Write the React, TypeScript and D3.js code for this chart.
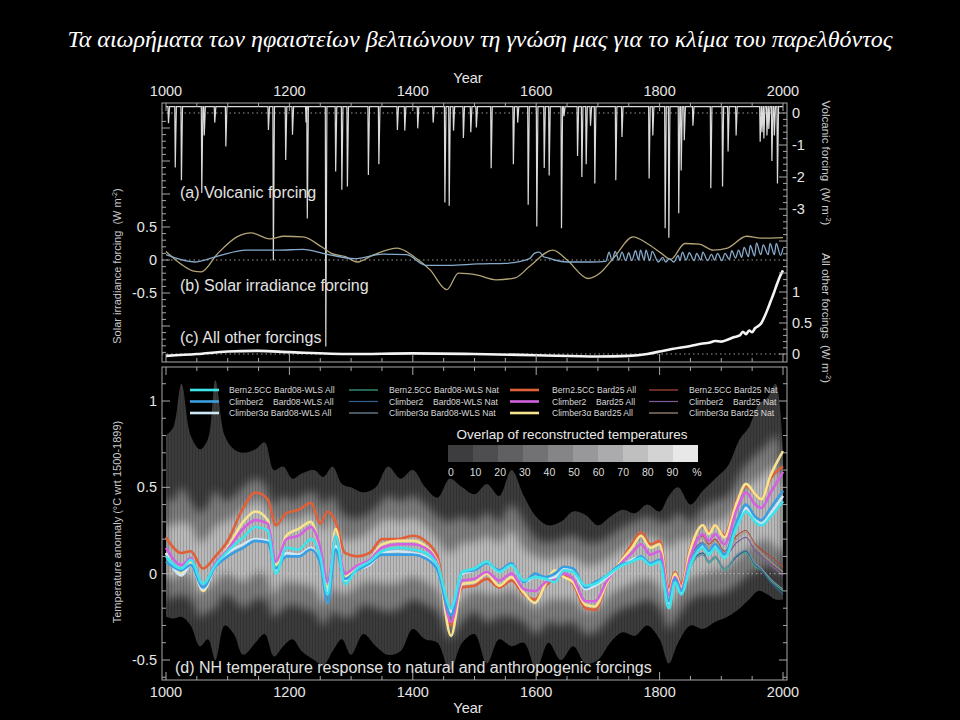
import { useEffect, useRef } from "react";
import * as d3 from "d3";

const TITLE =
  "Τα αιωρήματα των ηφαιστείων βελτιώνουν τη γνώση μας για το κλίμα του παρελθόντος";

// (a) volcanic forcing spikes (W m-2)
const volcBase = 0.2;
const volcYears = [
  1004, 1015, 1025, 1058, 1062, 1079, 1097, 1166, 1174, 1194, 1205, 1227, 1229, 1259, 1275, 1285,
  1294, 1328, 1345, 1375, 1387, 1408, 1433, 1452, 1459, 1466, 1482, 1494, 1503, 1527, 1563, 1570,
  1587, 1601, 1613, 1621, 1641, 1645, 1667, 1674, 1681, 1688, 1695, 1729, 1739, 1783, 1789, 1809,
  1815, 1831, 1835, 1840, 1854, 1883, 1902, 1911, 1924, 1963, 1966, 1969, 1974, 1977, 1982, 1986,
  1991,
];
const volcValues = [
  -0.32, -1.7, -2.1, -2.5, -0.7, -0.3, -1.05, -0.53, -4.6, -1.47, -0.68, -0.3, -3.3, -7.3, -1.83,
  -2.4, -2.3, -1.94, -1.6, -0.53, -0.55, -0.48, -0.3, -2.8, -2.9, -0.55, -0.78, -0.6, -0.45, -1.73,
  -1.6, -0.3, -2.87, -3.55, -1.72, -1.95, -3.6, -0.1, -1.34, -2.0, -1.6, -0.4, -2.2, -2.1, -0.75,
  -2.05, -0.7, -3.6, -3.9, -3.13, -1.8, -0.85, -0.4, -2.35, -2.3, -1.2, -0.7, -0.9, -0.6, -0.8,
  -0.7, -0.5, -1.5, -0.7, -2.2,
];

// (b) solar irradiance forcing
const solarTanYears = [
  1000, 1027, 1045, 1057, 1084, 1115, 1138, 1168, 1191, 1222, 1252, 1268, 1291, 1310, 1337, 1375,
  1402, 1428, 1455, 1474, 1505, 1535, 1566, 1589, 1627, 1650, 1684, 1703, 1727, 1757, 1780, 1803,
  1818, 1841, 1864, 1887, 1910, 1941, 1964, 2000,
];
const solarTan = [
  0.13, -0.08, -0.17, -0.18, 0.1, 0.35, 0.41, 0.32, 0.36, 0.35, 0.2, 0.1, 0.05, -0.03, 0.08, 0.18,
  0.05, -0.15, -0.45, -0.2, -0.23, -0.3, -0.27, -0.1, 0.15, 0.0, -0.28, -0.2, 0.05, 0.35, 0.25, 0.1,
  0.01, 0.25, 0.24, 0.15, 0.18, 0.36, 0.33, 0.34,
];
const solarBlueYears = [
  1000, 1046, 1084, 1130, 1183, 1222, 1260, 1306, 1352, 1390, 1421, 1459, 1505, 1551, 1589, 1597,
  1605, 1612, 1620, 1630, 1650, 1690, 1713, 1718, 1723, 1728, 1734, 1739, 1745, 1750, 1755, 1761,
  1766, 1769, 1775, 1778, 1784, 1788, 1798, 1805, 1810, 1816, 1823, 1830, 1833, 1837, 1843, 1848,
  1856, 1860, 1867, 1870, 1878, 1884, 1889, 1894, 1901, 1906, 1913, 1917, 1923, 1928, 1933, 1937,
  1944, 1947, 1954, 1957, 1964, 1968, 1976, 1979, 1986, 1989, 1996, 2000,
];
const solarBlue = [
  0.08, -0.03, 0.06, 0.15, 0.15, 0.16, 0.09, 0.02, 0.09, 0.08, -0.08, -0.08, -0.06, -0.05, 0.02,
  0.1, 0.12, 0.05, 0.03, 0.0, -0.03, -0.03, -0.02, 0.12, -0.01, 0.13, 0.0, 0.12, -0.01, 0.11, -0.01,
  0.14, 0.0, 0.15, 0.0, 0.15, -0.01, 0.13, -0.03, 0.04, -0.03, 0.02, -0.03, 0.07, -0.01, 0.12, 0.0,
  0.11, -0.01, 0.1, 0.0, 0.12, -0.01, 0.09, 0.0, 0.1, -0.01, 0.1, 0.01, 0.14, 0.03, 0.15, 0.04, 0.19,
  0.05, 0.22, 0.06, 0.26, 0.08, 0.23, 0.08, 0.25, 0.08, 0.25, 0.07, 0.18,
];

// (c) all other forcings
const otherYears = [
  1000, 1050, 1100, 1150, 1200, 1300, 1400, 1500, 1600, 1700, 1750, 1780, 1800, 1820, 1850, 1870,
  1880, 1890, 1900, 1910, 1920, 1930, 1935, 1940, 1945, 1950, 1955, 1960, 1965, 1970, 1975, 1980,
  1985, 1990, 1995, 2000,
];
const otherValues = [
  -0.03, 0.0, 0.04, 0.05, 0.03, 0.0, 0.01, 0.0, -0.02, -0.04, -0.03, 0.0, 0.04, 0.08, 0.13, 0.17,
  0.18, 0.21, 0.2, 0.23, 0.27, 0.3, 0.36, 0.32, 0.38, 0.35, 0.42, 0.45, 0.5, 0.6, 0.72, 0.85, 0.98,
  1.12, 1.25, 1.35,
];

// (d) NH temperature response (°C wrt 1500-1899)
const tYears = [
  1000, 1025, 1040, 1060, 1080, 1100, 1125, 1145, 1165, 1178, 1195, 1215, 1235, 1250, 1262, 1275,
  1290, 1310, 1330, 1350, 1375, 1400, 1420, 1440, 1462, 1480, 1500, 1520, 1540, 1560, 1580, 1598,
  1615, 1630, 1645, 1660, 1680, 1695, 1715, 1735, 1755, 1770, 1785, 1800, 1815, 1825, 1835, 1850,
  1870, 1880, 1890, 1905, 1925, 1940, 1955, 1965, 1980, 2000,
];
const bern08All = [
  0.1, 0.03, 0.08, -0.06, 0.05, 0.13, 0.21, 0.27, 0.25, 0.0,
  0.15, 0.14, 0.2, 0.1, -0.12, 0.22, -0.06, 0.03, 0.07, 0.13,
  0.15, 0.14, 0.12, 0.05, -0.2, 0.01, 0.03, 0.07, 0.01, 0.05,
  -0.04, -0.02, -0.03, -0.05, 0.02, 0.01, -0.07, -0.06, -0.01, 0.04,
  0.07, 0.09, 0.05, 0.07, -0.2, -0.05, -0.12, 0.05, 0.15, 0.11,
  0.15, 0.09, 0.27, 0.36, 0.3, 0.28, 0.33, 0.42,
];
const climber2_08All = [
  0.07, 0.02, 0.05, -0.08, 0.04, 0.1, 0.15, 0.19, 0.18, 0.03,
  0.1, 0.1, 0.14, 0.06, -0.17, 0.14, -0.03, 0.02, 0.06, 0.11,
  0.11, 0.11, 0.09, 0.02, -0.24, 0.01, 0.02, 0.06, 0.02, 0.06,
  -0.05, 0.0, -0.02, 0.0, 0.04, 0.03, -0.08, -0.05, -0.01, 0.05,
  0.07, 0.1, 0.06, 0.08, -0.16, -0.03, -0.1, 0.06, 0.17, 0.13,
  0.17, 0.11, 0.3, 0.4, 0.33, 0.31, 0.38, 0.48,
];
const climber3_08All = [
  0.12, -0.01, 0.05, -0.09, 0.04, 0.12, 0.17, 0.2, 0.19, 0.02,
  0.12, 0.11, 0.15, 0.06, -0.1, 0.16, -0.04, 0.02, 0.05, 0.12,
  0.13, 0.12, 0.1, 0.02, -0.22, 0.0, 0.02, 0.06, 0.01, 0.05,
  -0.05, -0.02, -0.03, -0.02, 0.03, 0.01, -0.09, -0.07, -0.02, 0.04,
  0.08, 0.1, 0.06, 0.07, -0.17, -0.04, -0.11, 0.06, 0.16, 0.12,
  0.16, 0.1, 0.28, 0.38, 0.31, 0.29, 0.35, 0.45,
];
const bern25All = [
  0.21, 0.12, 0.13, 0.03, 0.1, 0.19, 0.38, 0.47, 0.43, 0.28,
  0.35, 0.37, 0.41, 0.29, 0.36, 0.3, 0.12, 0.1, 0.12, 0.2,
  0.2, 0.22, 0.19, 0.1, -0.3, -0.08, -0.07, -0.03, -0.08, -0.04,
  -0.12, -0.15, -0.07, -0.03, -0.01, -0.06, -0.2, -0.21, -0.05, 0.06,
  0.17, 0.24, 0.17, 0.19, -0.08, 0.01, -0.06, 0.15, 0.28, 0.24,
  0.28, 0.22, 0.42, 0.51, 0.46, 0.43, 0.55, 0.62,
];
const climber2_25All = [
  0.15, 0.05, 0.09, -0.07, 0.06, 0.14, 0.26, 0.31, 0.29, 0.07,
  0.2, 0.22, 0.27, 0.15, -0.05, 0.22, 0.0, 0.05, 0.08, 0.15,
  0.17, 0.17, 0.15, 0.06, -0.28, -0.04, -0.03, 0.01, -0.04, 0.0,
  -0.09, -0.1, -0.05, -0.03, 0.0, -0.03, -0.16, -0.16, -0.04, 0.05,
  0.12, 0.17, 0.11, 0.13, -0.12, -0.02, -0.09, 0.1, 0.23, 0.19,
  0.23, 0.17, 0.37, 0.47, 0.4, 0.38, 0.47, 0.59,
];
const climber3_25All = [
  0.12, 0.0, 0.07, -0.1, 0.05, 0.15, 0.3, 0.36, 0.31, 0.05,
  0.22, 0.26, 0.3, 0.12, -0.08, 0.26, -0.02, 0.05, 0.08, 0.17,
  0.19, 0.19, 0.16, 0.07, -0.36, -0.06, -0.05, 0.0, -0.07, -0.02,
  -0.11, -0.17, -0.06, 0.02, -0.02, -0.05, -0.18, -0.19, -0.05, 0.06,
  0.15, 0.22, 0.15, 0.17, -0.11, 0.0, -0.08, 0.14, 0.28, 0.23,
  0.28, 0.21, 0.41, 0.52, 0.46, 0.43, 0.57, 0.71,
];
const bern08Nat = [
  0.1, 0.03, 0.08, -0.06, 0.05, 0.13, 0.21, 0.27, 0.25, 0.0,
  0.15, 0.14, 0.2, 0.1, -0.12, 0.22, -0.06, 0.03, 0.07, 0.13,
  0.15, 0.14, 0.12, 0.05, -0.2, 0.01, 0.03, 0.07, 0.01, 0.05,
  -0.04, -0.02, -0.03, -0.05, 0.02, 0.01, -0.07, -0.06, -0.01, 0.04,
  0.07, 0.09, 0.05, 0.07, -0.2, -0.05, -0.12, 0.04, 0.11, 0.06,
  0.09, 0.02, 0.1, 0.12, 0.04, 0.02, -0.04, -0.1,
];
const climber2_08Nat = [
  0.07, 0.02, 0.05, -0.08, 0.04, 0.1, 0.15, 0.19, 0.18, 0.03,
  0.1, 0.1, 0.14, 0.06, -0.17, 0.14, -0.03, 0.02, 0.06, 0.11,
  0.11, 0.11, 0.09, 0.02, -0.24, 0.01, 0.02, 0.06, 0.02, 0.06,
  -0.05, 0.0, -0.02, 0.0, 0.04, 0.03, -0.08, -0.05, -0.01, 0.05,
  0.07, 0.1, 0.06, 0.08, -0.16, -0.03, -0.1, 0.05, 0.12, 0.07,
  0.1, 0.03, 0.1, 0.13, 0.05, 0.02, -0.05, -0.12,
];
const climber3_08Nat = [
  0.12, -0.01, 0.05, -0.09, 0.04, 0.12, 0.17, 0.2, 0.19, 0.02,
  0.12, 0.11, 0.15, 0.06, -0.1, 0.16, -0.04, 0.02, 0.05, 0.12,
  0.13, 0.12, 0.1, 0.02, -0.22, 0.0, 0.02, 0.06, 0.01, 0.05,
  -0.05, -0.02, -0.03, -0.02, 0.03, 0.01, -0.09, -0.07, -0.02, 0.04,
  0.08, 0.1, 0.06, 0.07, -0.17, -0.04, -0.11, 0.05, 0.11, 0.07,
  0.1, 0.03, 0.11, 0.14, 0.06, 0.03, -0.03, -0.09,
];
const bern25Nat = [
  0.21, 0.12, 0.13, 0.03, 0.1, 0.19, 0.38, 0.47, 0.43, 0.28,
  0.35, 0.37, 0.41, 0.29, 0.36, 0.3, 0.12, 0.1, 0.12, 0.2,
  0.2, 0.22, 0.19, 0.1, -0.3, -0.08, -0.07, -0.03, -0.08, -0.04,
  -0.12, -0.15, -0.07, -0.03, -0.01, -0.06, -0.2, -0.21, -0.05, 0.06,
  0.17, 0.24, 0.17, 0.19, -0.08, 0.01, -0.06, 0.13, 0.22, 0.17,
  0.2, 0.13, 0.22, 0.25, 0.17, 0.14, 0.1, 0.04,
];
const climber2_25Nat = [
  0.15, 0.05, 0.09, -0.07, 0.06, 0.14, 0.26, 0.31, 0.29, 0.07,
  0.2, 0.22, 0.27, 0.15, -0.05, 0.22, 0.0, 0.05, 0.08, 0.15,
  0.17, 0.17, 0.15, 0.06, -0.28, -0.04, -0.03, 0.01, -0.04, 0.0,
  -0.09, -0.1, -0.05, -0.03, 0.0, -0.03, -0.16, -0.16, -0.04, 0.05,
  0.12, 0.17, 0.11, 0.13, -0.12, -0.02, -0.09, 0.09, 0.18, 0.13,
  0.17, 0.1, 0.18, 0.21, 0.13, 0.1, 0.05, -0.01,
];
const climber3_25Nat = [
  0.12, 0.0, 0.07, -0.1, 0.05, 0.15, 0.3, 0.36, 0.31, 0.05,
  0.22, 0.26, 0.3, 0.12, -0.08, 0.26, -0.02, 0.05, 0.08, 0.17,
  0.19, 0.19, 0.16, 0.07, -0.36, -0.06, -0.05, 0.0, -0.07, -0.02,
  -0.11, -0.17, -0.06, 0.02, -0.02, -0.05, -0.18, -0.19, -0.05, 0.06,
  0.15, 0.22, 0.15, 0.17, -0.11, 0.0, -0.08, 0.12, 0.21, 0.15,
  0.19, 0.12, 0.2, 0.24, 0.16, 0.12, 0.07, 0.01,
];

// overlap of reconstructed temperatures (envelopes)
const sYears = [
  1000, 1012, 1025, 1040, 1055, 1068, 1080, 1095, 1110, 1125,
  1145, 1160, 1175, 1190, 1205, 1220, 1240, 1255, 1270, 1285,
  1300, 1320, 1340, 1360, 1380, 1400, 1420, 1440, 1460, 1480,
  1500, 1520, 1540, 1560, 1580, 1600, 1620, 1640, 1660, 1680,
  1700, 1720, 1740, 1760, 1780, 1800, 1815, 1830, 1850, 1870,
  1890, 1910, 1930, 1945, 1960, 1975, 1988, 2000,
];
const outerHi = [
  0.8, 0.85, 1.1, 0.8, 0.72, 0.78, 1.12, 0.8, 0.72, 0.7,
  0.72, 0.76, 0.6, 0.62, 0.55, 0.58, 0.6, 0.56, 0.62, 0.52,
  0.5, 0.47, 0.5, 0.62, 0.55, 0.6, 0.5, 0.44, 0.55, 0.5,
  0.46, 0.52, 0.45, 0.6, 0.45, 0.33, 0.28, 0.3, 0.36, 0.34,
  0.28, 0.33, 0.37, 0.35, 0.4, 0.36, 0.45, 0.5, 0.4, 0.48,
  0.55, 0.62, 0.78, 0.85, 0.98, 1.02, 1.1, 0.7,
];
const outerLo = [
  -0.25, -0.26, -0.25, -0.3, -0.42, -0.38, -0.5, -0.3, -0.35, -0.47,
  -0.4, -0.35, -0.48, -0.42, -0.38, -0.45, -0.5, -0.53, -0.45, -0.38,
  -0.47, -0.35, -0.42, -0.47, -0.45, -0.32, -0.38, -0.4, -0.56, -0.4,
  -0.35, -0.52, -0.38, -0.42, -0.4, -0.55, -0.4, -0.5, -0.42, -0.52,
  -0.5, -0.4, -0.34, -0.36, -0.3, -0.38, -0.52, -0.4, -0.3, -0.32,
  -0.28, -0.25, -0.2, -0.15, -0.1, -0.12, -0.15, -0.15,
];
const midHi = [
  0.45, 0.42, 0.5, 0.42, 0.35, 0.4, 0.48, 0.42, 0.45, 0.5,
  0.55, 0.52, 0.4, 0.45, 0.42, 0.45, 0.47, 0.4, 0.45, 0.35,
  0.32, 0.33, 0.38, 0.45, 0.42, 0.45, 0.4, 0.33, 0.3, 0.33,
  0.3, 0.35, 0.3, 0.4, 0.3, 0.2, 0.18, 0.2, 0.22, 0.18,
  0.18, 0.22, 0.27, 0.3, 0.33, 0.3, 0.3, 0.35, 0.3, 0.38,
  0.42, 0.45, 0.58, 0.65, 0.7, 0.75, 0.8, 0.6,
];
const midLo = [
  -0.15, -0.14, -0.12, -0.15, -0.25, -0.22, -0.2, -0.12, -0.15, -0.2,
  -0.15, -0.15, -0.25, -0.2, -0.18, -0.2, -0.22, -0.3, -0.22, -0.25,
  -0.25, -0.18, -0.2, -0.22, -0.2, -0.15, -0.18, -0.22, -0.38, -0.28,
  -0.22, -0.28, -0.25, -0.25, -0.28, -0.35, -0.28, -0.3, -0.28, -0.35,
  -0.33, -0.25, -0.2, -0.18, -0.15, -0.2, -0.32, -0.25, -0.15, -0.12,
  -0.12, -0.1, -0.05, 0.0, 0.02, 0.05, 0.02, 0.0,
];
const coreHi = [
  0.3, 0.28, 0.3, 0.28, 0.18, 0.22, 0.28, 0.3, 0.33, 0.38,
  0.42, 0.4, 0.28, 0.32, 0.3, 0.33, 0.35, 0.25, 0.33, 0.2,
  0.2, 0.22, 0.28, 0.32, 0.3, 0.32, 0.28, 0.2, 0.12, 0.18,
  0.18, 0.22, 0.18, 0.25, 0.15, 0.1, 0.08, 0.1, 0.1, 0.05,
  0.06, 0.1, 0.15, 0.2, 0.22, 0.2, 0.15, 0.2, 0.2, 0.28,
  0.3, 0.33, 0.45, 0.52, 0.55, 0.6, 0.62, 0.5,
];
const coreLo = [
  -0.02, -0.03, 0.0, -0.02, -0.12, -0.08, -0.05, 0.0, -0.02, -0.05,
  0.0, 0.0, -0.12, -0.05, -0.05, -0.06, -0.08, -0.18, -0.08, -0.12,
  -0.1, -0.05, -0.05, -0.06, -0.05, -0.02, -0.05, -0.1, -0.25, -0.15,
  -0.1, -0.12, -0.12, -0.1, -0.15, -0.2, -0.15, -0.15, -0.15, -0.22,
  -0.2, -0.12, -0.08, -0.05, -0.03, -0.08, -0.2, -0.12, -0.03, 0.0,
  0.02, 0.03, 0.1, 0.15, 0.18, 0.2, 0.15, 0.12,
];

const overlapLabels = ["0", "10", "20", "30", "40", "50", "60", "70", "80", "90"];
const overlapColors = [
  "#3d3d3f", "#4e4e50", "#606062", "#727274", "#858587",
  "#98989a", "#ababad", "#bfbfc0", "#d3d3d4", "#e8e8e8",
];

const legendNames = [
  "Bern2.5CC Bard08-WLS All", "Climber2    Bard08-WLS All", "Climber3α Bard08-WLS All",
  "Bern2.5CC Bard08-WLS Nat", "Climber2    Bard08-WLS Nat", "Climber3α Bard08-WLS Nat",
  "Bern2.5CC Bard25 All", "Climber2    Bard25 All", "Climber3α Bard25 All",
  "Bern2.5CC Bard25 Nat", "Climber2    Bard25 Nat", "Climber3α Bard25 Nat",
];
const seriesData = [
  bern08All, climber2_08All, climber3_08All,
  bern08Nat, climber2_08Nat, climber3_08Nat,
  bern25All, climber2_25All, climber3_25All,
  bern25Nat, climber2_25Nat, climber3_25Nat,
];
const seriesColors = [
  "#3fe3ea", "#3a9fe2", "#cfe8f6",
  "#3aa88c", "#2f6090", "#7890a2",
  "#e0603a", "#d462e0", "#f6e38e",
  "#b04a3a", "#7e5c9c", "#a69484",
];
// order in which lines are stacked (index into the arrays above)
const drawOrder = [3, 4, 5, 9, 10, 11, 6, 8, 7, 2, 1, 0];

const FONT = "'Liberation Sans', Arial, Helvetica, sans-serif";

export default function App() {
  const svgRef = useRef<SVGSVGElement>(null);

  useEffect(() => {
    if (!svgRef.current) return;
    document.body.style.margin = "0";
    document.body.style.background = "#000";

    const svg = d3.select(svgRef.current);
    svg.selectAll("*").remove();

    const x = d3.scaleLinear().domain([1000, 2000]).range([166, 783]);
    const yV = d3.scaleLinear().domain([0, -3]).range([113, 209]);
    const yS = d3.scaleLinear().domain([0.5, -0.5]).range([227, 293]);
    const yO = d3.scaleLinear().domain([0, 1]).range([354, 292]);
    const yT = d3.scaleLinear().domain([1, -0.5]).range([401, 660]);

    const top = { x: 162, y: 103, w: 625, h: 259 };
    const bot = { x: 162, y: 367, w: 625, h: 313 };

    const defs = svg.append("defs");
    defs.append("clipPath").attr("id", "clipTop").append("rect")
      .attr("x", top.x).attr("y", top.y).attr("width", top.w).attr("height", top.h);
    defs.append("clipPath").attr("id", "clipBot").append("rect")
      .attr("x", bot.x).attr("y", bot.y).attr("width", bot.w).attr("height", bot.h);
    const soft = defs.append("filter").attr("id", "soft")
      .attr("x", "-5%").attr("y", "-30%").attr("width", "110%").attr("height", "160%");
    soft.append("feGaussianBlur").attr("stdDeviation", 4);
    const pat = defs.append("pattern").attr("id", "stripes")
      .attr("patternUnits", "userSpaceOnUse").attr("width", 3).attr("height", 8);
    pat.append("rect").attr("width", 1).attr("height", 8).attr("fill", "#000").attr("opacity", 0.16);

    // title
    svg.append("text")
      .attr("x", 480).attr("y", 47)
      .attr("text-anchor", "middle")
      .attr("font-family", "'Liberation Serif', 'Times New Roman', serif")
      .attr("font-style", "italic")
      .attr("font-size", 23)
      .attr("fill", "#fff")
      .attr("textLength", 825)
      .attr("lengthAdjust", "spacingAndGlyphs")
      .text(TITLE);

    // ---------- bottom panel: shading ----------
    const gB = svg.append("g").attr("clip-path", "url(#clipBot)");
    const band = (hi: number[], lo: number[]) =>
      d3.area<number>()
        .x((d) => x(d))
        .y0((_, i) => yT(lo[i]))
        .y1((_, i) => yT(hi[i]))
        .curve(d3.curveCatmullRom)(sYears) as string;

    const outerD = band(outerHi, outerLo);
    defs.append("clipPath").attr("id", "clipOuter").append("path").attr("d", outerD);
    gB.append("path").attr("d", outerD).attr("fill", "#3b3b3b");
    const shade = gB.append("g").attr("clip-path", "url(#clipOuter)");
    shade.append("path").attr("d", band(midHi, midLo)).attr("fill", "#7c7c7c").attr("filter", "url(#soft)");
    shade.append("path").attr("d", band(coreHi, coreLo)).attr("fill", "#b9b9b9").attr("filter", "url(#soft)");
    shade.append("rect").attr("x", bot.x).attr("y", bot.y).attr("width", bot.w).attr("height", bot.h)
      .attr("fill", "url(#stripes)");

    gB.append("line")
      .attr("x1", bot.x).attr("x2", bot.x + bot.w)
      .attr("y1", yT(0)).attr("y2", yT(0))
      .attr("stroke", "#cfcfcf").attr("stroke-dasharray", "1.5,3").attr("opacity", 0.7);

    const tLine = d3.line<number>()
      .x((d) => x(d))
      .y(() => yT(0))
      .curve(d3.curveMonotoneX);

    drawOrder.forEach((k) => {
      const vals = seriesData[k];
      const isAll = legendNames[k].endsWith("All");
      tLine.y((_, i) => yT(vals[i]));
      gB.append("path")
        .attr("d", tLine(tYears) as string)
        .attr("fill", "none")
        .attr("stroke", seriesColors[k])
        .attr("stroke-width", isAll ? 2.6 : 1.2)
        .attr("stroke-linejoin", "round");
    });

    // legend
    const colLine = [190, 349, 510, 649];
    const colText = [229, 389, 552, 689];
    const rowY = [390, 401.5, 413];
    legendNames.forEach((name, k) => {
      const c = Math.floor(k / 3);
      const r = k % 3;
      const isAll = name.endsWith("All");
      svg.append("line")
        .attr("x1", colLine[c]).attr("x2", colLine[c] + 29)
        .attr("y1", rowY[r]).attr("y2", rowY[r])
        .attr("stroke", seriesColors[k])
        .attr("stroke-width", isAll ? 2.6 : 1.2);
      svg.append("text")
        .attr("x", colText[c]).attr("y", rowY[r] + 3)
        .attr("font-family", FONT).attr("font-size", 8.6)
        .attr("fill", "#d8d8d8")
        .style("white-space", "pre")
        .text(name);
    });

    // overlap colour bar
    svg.append("text")
      .attr("x", 572).attr("y", 439)
      .attr("text-anchor", "middle")
      .attr("font-family", FONT).attr("font-size", 13.5)
      .attr("fill", "#e8e8e8")
      .text("Overlap of reconstructed temperatures");
    overlapColors.forEach((c, i) => {
      svg.append("rect")
        .attr("x", 448 + i * 25).attr("y", 445)
        .attr("width", 25).attr("height", 17)
        .attr("fill", c);
    });
    overlapLabels.forEach((t, i) => {
      svg.append("text")
        .attr("x", 451 + i * 24.6).attr("y", 476)
        .attr("text-anchor", "middle")
        .attr("font-family", FONT).attr("font-size", 10.5)
        .attr("fill", "#dcdcdc")
        .text(t);
    });
    svg.append("text")
      .attr("x", 697).attr("y", 476)
      .attr("text-anchor", "middle")
      .attr("font-family", FONT).attr("font-size", 10.5)
      .attr("fill", "#dcdcdc")
      .text("%");

    // ---------- top panel ----------
    const gT = svg.append("g").attr("clip-path", "url(#clipTop)");
    [yV(0), yS(0), yO(0)].forEach((yy) => {
      gT.append("line")
        .attr("x1", top.x).attr("x2", top.x + top.w)
        .attr("y1", yy).attr("y2", yy)
        .attr("stroke", "#9a9a9a").attr("stroke-dasharray", "1.5,3");
    });

    // volcanic spikes
    const volcPts: [number, number][] = [[1000, volcBase]];
    volcYears.forEach((yr, i) => {
      volcPts.push([yr - 0.8, volcBase], [yr, volcValues[i]], [yr + 1.8, volcBase]);
    });
    volcPts.push([2000, volcBase]);
    gT.append("path")
      .attr("d", d3.line<[number, number]>().x((d) => x(d[0])).y((d) => yV(d[1]))(volcPts) as string)
      .attr("fill", "none").attr("stroke", "#dadada").attr("stroke-width", 1.2);

    // solar
    const sTan: [number, number][] = solarTanYears.map((yr, i) => [yr, solarTan[i]]);
    const sBlue: [number, number][] = solarBlueYears.map((yr, i) => [yr, solarBlue[i]]);
    const sLine = d3.line<[number, number]>().x((d) => x(d[0])).y((d) => yS(d[1])).curve(d3.curveMonotoneX);
    gT.append("path").attr("d", sLine(sTan) as string)
      .attr("fill", "none").attr("stroke", "#b3a577").attr("stroke-width", 1.3);
    gT.append("path").attr("d", sLine(sBlue) as string)
      .attr("fill", "none").attr("stroke", "#86aacb").attr("stroke-width", 1.3);

    // all other forcings
    const oPts: [number, number][] = otherYears.map((yr, i) => [yr, otherValues[i]]);
    gT.append("path")
      .attr("d", d3.line<[number, number]>().x((d) => x(d[0])).y((d) => yO(d[1])).curve(d3.curveMonotoneX)(oPts) as string)
      .attr("fill", "none").attr("stroke", "#f4f4f4").attr("stroke-width", 2.6);

    // panel labels
    const panelLabel = (t: string, px: number, py: number) =>
      svg.append("text")
        .attr("x", px).attr("y", py)
        .attr("font-family", FONT).attr("font-size", 16)
        .attr("fill", "#e2e2e2")
        .text(t);
    panelLabel("(a) Volcanic forcing", 180, 198);
    panelLabel("(b) Solar irradiance forcing", 180, 291);
    panelLabel("(c) All other forcings", 180, 343);
    panelLabel("(d) NH temperature response to natural and anthropogenic forcings", 175, 673);

    // ---------- frames and ticks ----------
    const FR = "#a8a8a8";
    [top, bot].forEach((p) => {
      svg.append("rect")
        .attr("x", p.x).attr("y", p.y).attr("width", p.w).attr("height", p.h)
        .attr("fill", "none").attr("stroke", FR).attr("stroke-width", 1);
    });
    const tick = (x1: number, y1: number, x2: number, y2: number) =>
      svg.append("line").attr("x1", x1).attr("y1", y1).attr("x2", x2).attr("y2", y2)
        .attr("stroke", FR).attr("stroke-width", 1);

    d3.range(1000, 2001, 50).forEach((yr) => {
      const len = yr % 200 === 0 ? 8 : 4;
      const xx = x(yr);
      tick(xx, top.y, xx, top.y + len);
      tick(xx, top.y + top.h, xx, top.y + top.h - len);
      tick(xx, bot.y, xx, bot.y + len);
      tick(xx, bot.y + bot.h, xx, bot.y + bot.h - len);
    });
    // solar (left of top panel)
    d3.range(-14, 22).forEach((k) => {
      const len = k % 5 === 0 ? 8 : 4;
      tick(top.x, yS(k / 10), top.x + len, yS(k / 10));
    });
    // volcanic (right)
    d3.range(0, -26, -1).forEach((k) => {
      const len = k % 5 === 0 ? 8 : 4;
      tick(top.x + top.w, yV(k / 5), top.x + top.w - len, yV(k / 5));
    });
    // all other (right)
    d3.range(0, 13).forEach((k) => {
      const len = k % 5 === 0 ? 8 : 4;
      tick(top.x + top.w, yO(k / 10), top.x + top.w - len, yO(k / 10));
    });
    // temperature (left + right)
    d3.range(-6, 12).forEach((k) => {
      const len = k % 5 === 0 ? 8 : 4;
      tick(bot.x, yT(k / 10), bot.x + len, yT(k / 10));
      tick(bot.x + bot.w, yT(k / 10), bot.x + bot.w - len, yT(k / 10));
    });

    // tick labels
    const lab = (t: string, px: number, py: number, anchor: string, size = 14.5) =>
      svg.append("text")
        .attr("x", px).attr("y", py)
        .attr("text-anchor", anchor)
        .attr("font-family", FONT).attr("font-size", size)
        .attr("fill", "#e6e6e6")
        .text(t);
    d3.range(1000, 2001, 200).forEach((yr) => {
      lab(String(yr), x(yr), 96, "middle");
      lab(String(yr), x(yr), 697, "middle");
    });
    lab("Year", 468, 83, "middle");
    lab("Year", 468, 713, "middle");

    [0, -1, -2, -3].forEach((v) => lab(String(v), 792, yV(v) + 5, "start"));
    [0, 0.5, 1].forEach((v) => lab(String(v), 792, yO(v) + 5, "start"));
    [0.5, 0, -0.5].forEach((v) => lab(String(v), 157, yS(v) + 5, "end"));
    [1, 0.5, 0, -0.5].forEach((v) => lab(String(v), 157, yT(v) + 5, "end"));

    // axis titles with superscript units
    const axisTitle = (main: string, cx: number, cy: number, rot: number, size: number) => {
      const t = svg.append("text")
        .attr("transform", `translate(${cx},${cy}) rotate(${rot})`)
        .attr("text-anchor", "middle")
        .attr("font-family", FONT).attr("font-size", size)
        .attr("fill", "#c8c8c8")
        .style("white-space", "pre");
      t.append("tspan").text(main + "  (W m");
      t.append("tspan").attr("dy", -4).attr("font-size", size * 0.65).text("-2");
      t.append("tspan").attr("dy", 4).text(")");
    };
    axisTitle("Solar irradiance forcing", 121, 266, -90, 11);
    axisTitle("Volcanic forcing", 822, 163, 90, 11.5);
    axisTitle("All other forcings", 822, 318, 90, 11.5);

    svg.append("text")
      .attr("transform", "translate(121,522) rotate(-90)")
      .attr("text-anchor", "middle")
      .attr("font-family", FONT).attr("font-size", 11)
      .attr("fill", "#c8c8c8")
      .text("Temperature anomaly  (°C wrt 1500-1899)");
  }, []);

  return (
    <div style={{ position: "absolute", left: 0, top: 0, width: 960, height: 720, background: "#000" }}>
      <svg ref={svgRef} width={960} height={720} style={{ display: "block" }} />
    </div>
  );
}
